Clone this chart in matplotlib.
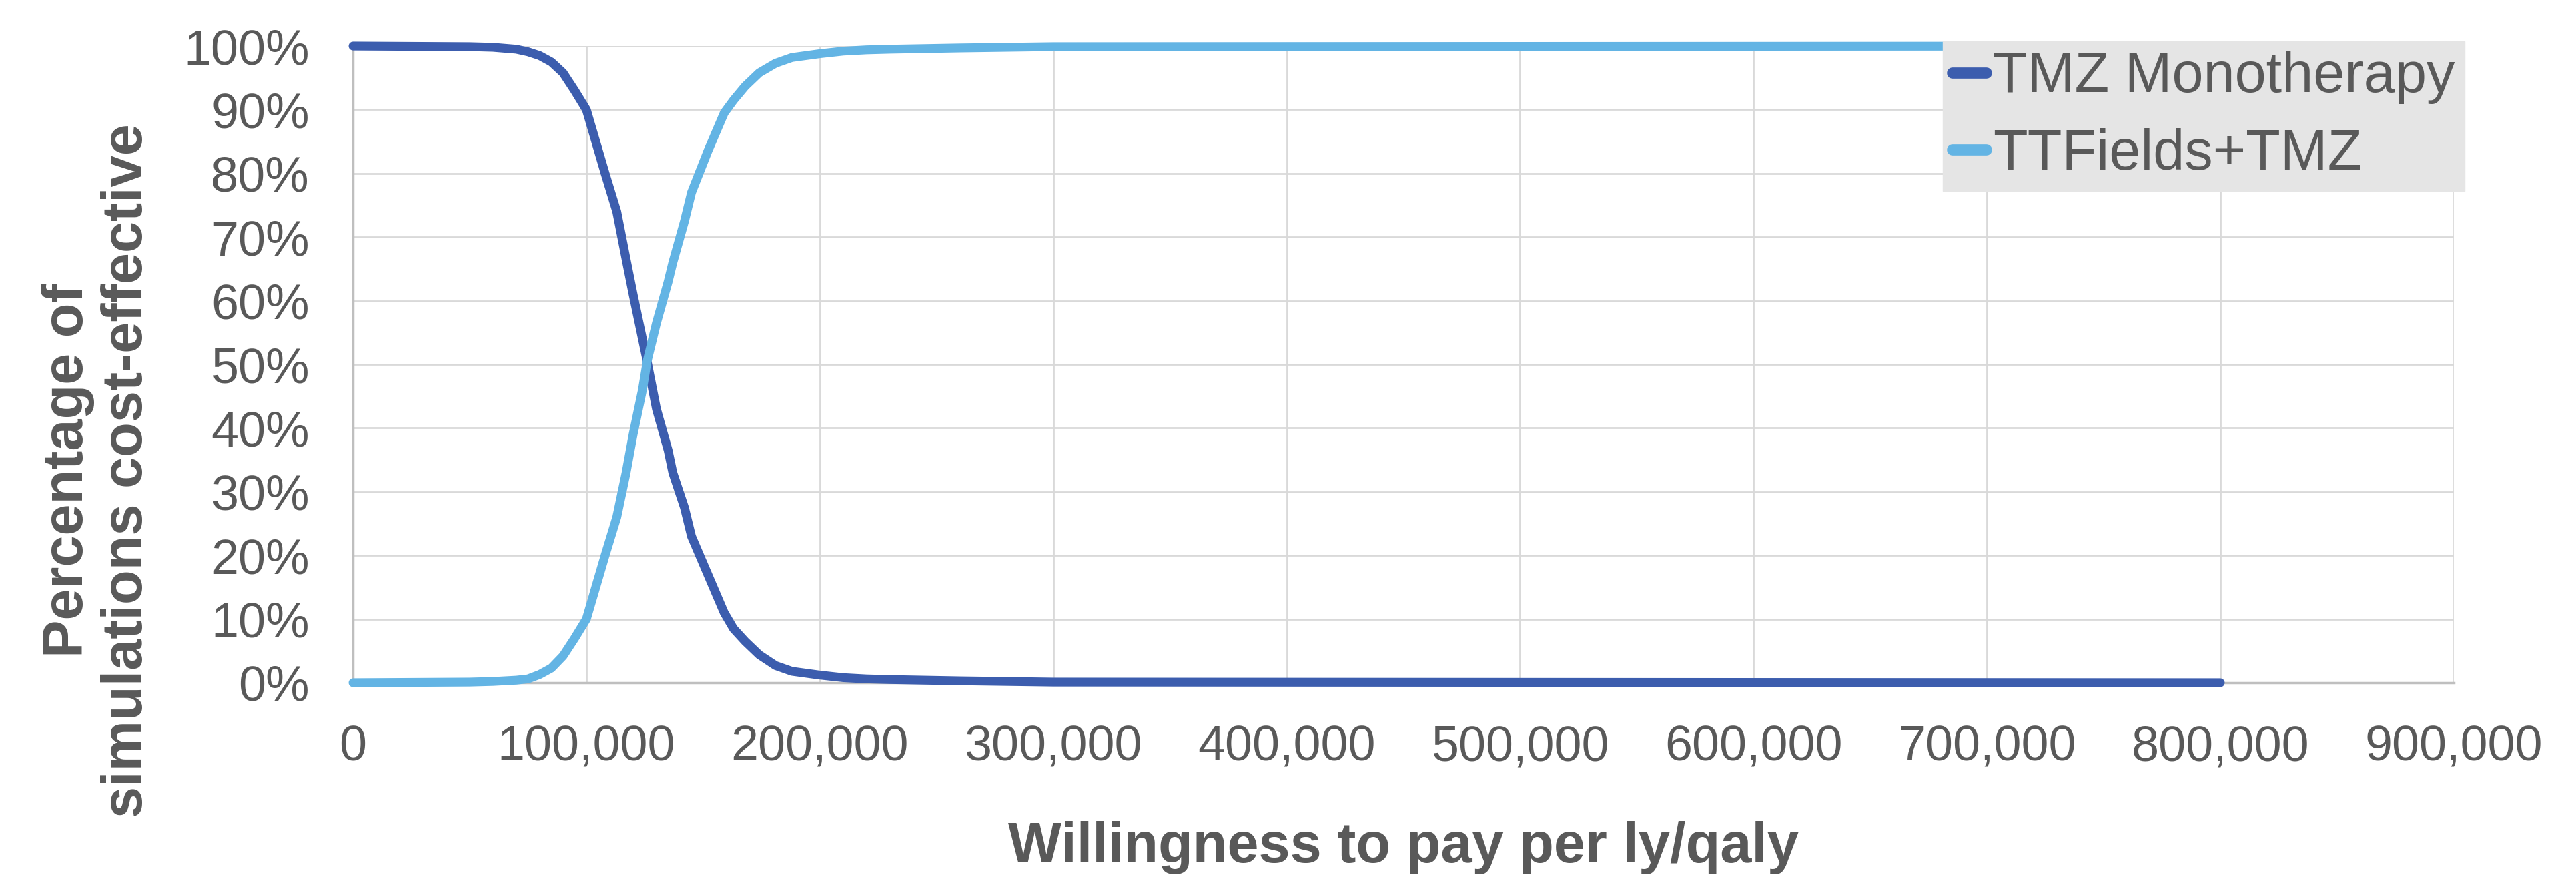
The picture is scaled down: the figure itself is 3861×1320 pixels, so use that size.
import matplotlib
matplotlib.use("Agg")
import matplotlib.pyplot as plt
from matplotlib.ticker import FuncFormatter, MultipleLocator

# willingness-to-pay grid and acceptability curves (% of simulations)
wtp = [0, 50000, 60000, 70000, 75000, 80000, 85000, 90000, 95000, 100000,
       104000, 108000, 113000, 117000, 120000, 124000, 126000, 130000,
       135000, 137000, 142000, 145000, 152000, 159000, 163000, 168000,
       174000, 181000, 188000, 200000, 210000, 220000, 230000, 260000,
       300000, 800000]
tmz_mono = [100, 99.9, 99.8, 99.5, 99.1, 98.5, 97.5, 95.8, 93.0, 90.0,
            85.0, 80.0, 74.0, 66.5, 61.0, 54.0, 50.5, 43.0,
            36.5, 33.0, 27.5, 23.0, 17.0, 11.0, 8.5, 6.5,
            4.4, 2.7, 1.8, 1.2, 0.8, 0.6, 0.5, 0.3,
            0.1, 0.0]
ttfields_tmz = [0.0, 0.1, 0.2, 0.4, 0.6, 1.3, 2.3, 4.2, 7.0, 10.0,
                15.0, 20.0, 26.0, 33.0, 39.0, 46.0, 50.5, 56.5,
                63.0, 66.0, 72.5, 77.0, 83.5, 89.5, 91.5, 93.7,
                95.8, 97.3, 98.2, 98.8, 99.2, 99.4, 99.5, 99.7,
                99.9, 100]
series_names = ["TMZ Monotherapy", "TTFields+TMZ"]
series_colors = ["#3C5DAE", "#63B4E4"]

TEXT = "#595959"


def main():
    plt.rcParams["font.family"] = ["Liberation Sans", "DejaVu Sans"]

    fig = plt.figure(figsize=(38.62, 13.2), dpi=100)
    ax = fig.add_axes([0.137, 0.225, 0.8153, 0.7227])

    for ys, name, color in zip([tmz_mono, ttfields_tmz], series_names, series_colors):
        ax.plot(wtp, ys, color=color, lw=9.5, label=name, clip_on=False,
                solid_capstyle="round", solid_joinstyle="round", zorder=3)

    ax.set_xlim(0, 900000)
    ax.set_ylim(0, 100)
    ax.xaxis.set_major_locator(MultipleLocator(100000))
    ax.yaxis.set_major_locator(MultipleLocator(10))
    ax.xaxis.set_major_formatter(FuncFormatter(lambda v, p: f"{int(v):,}"))
    ax.yaxis.set_major_formatter(FuncFormatter(lambda v, p: f"{int(v)}%"))

    ax.grid(True, color="#D9D9D9", lw=2)
    ax.set_axisbelow(True)
    for side in ["top", "right"]:
        ax.spines[side].set_visible(False)
    for side in ["left", "bottom"]:
        ax.spines[side].set_color("#BFBFBF")
        ax.spines[side].set_linewidth(2.5)

    ax.tick_params(axis="x", length=0, pad=45, labelsize=53, labelcolor=TEXT)
    ax.tick_params(axis="y", length=0, pad=47, labelsize=53, labelcolor=TEXT)

    fig.text(0.0379, 0.466, "Percentage of\nsimulations cost-effective",
             rotation=90, ha="center", va="center", multialignment="center",
             fontsize=61, fontweight="bold", color=TEXT, linespacing=1.15)
    fig.text(0.5446, 0.038, "Willingness to pay per ly/qaly",
             ha="center", va="center", fontsize=61, fontweight="bold", color=TEXT)

    leg = ax.legend(loc="upper right", bbox_to_anchor=(1.0051, 1.0073),
                    borderaxespad=0, fontsize=61, frameon=True, fancybox=False,
                    handlelength=0.6, handletextpad=0.12, labelspacing=0.42,
                    borderpad=0.17, labelcolor=TEXT)
    leg.get_frame().set_facecolor("#E5E5E5")
    leg.get_frame().set_edgecolor("#E5E5E5")
    leg.get_frame().set_alpha(1)
    leg.set_zorder(5)
    for line in leg.get_lines():
        line.set_linewidth(12)
        line.set_solid_capstyle("round")

    fig.savefig("out.png", dpi=100)


if __name__ == "__main__":
    main()
